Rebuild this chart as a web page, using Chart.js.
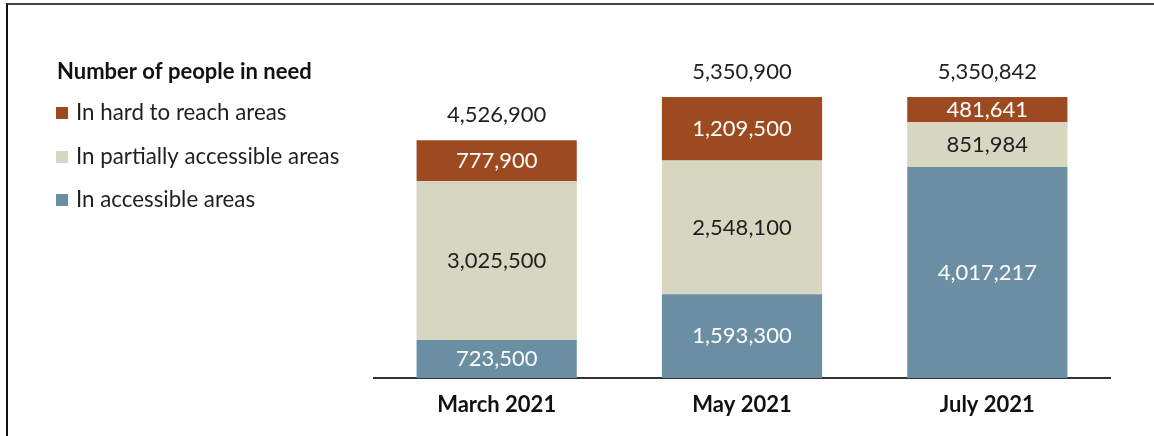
<!DOCTYPE html>
<html>
<head>
<meta charset="utf-8">
<script src="https://cdn.jsdelivr.net/npm/chart.js@4/dist/chart.umd.min.js"></script>
<style>
  html, body { margin: 0; padding: 0; background: #fff; }
  #wrap { position: relative; width: 1154px; height: 436px; overflow: hidden; }
  #frame { position: absolute; left: 6px; top: 3px; width: 1160px; height: 440px;
           border-top: 2px solid #444; border-left: 2px solid #111; }
  canvas { position: absolute; left: 0; top: 0; }
</style>
</head>
<body>
<div id="wrap">
  <div id="frame"></div>
  <canvas id="chart" width="1154" height="436"></canvas>
</div>
<script>
// data
const months = ["March 2021", "May 2021", "July 2021"];
const accessible = [723500, 1593300, 4017217];
const partial = [3025500, 2548100, 851984];
const hardToReach = [777900, 1209500, 481641];
const totals = [4526900, 5350900, 5350842];
const legendTitle = "Number of people in need";

const FONT = "Lato";
const fmt = v => v.toLocaleString("en-US");

const labelsPlugin = {
    id: "labelsPlugin",
    afterDatasetsDraw(chart) {
        const ctx = chart.ctx;
        ctx.save();
        ctx.textAlign = "center";
        ctx.textBaseline = "middle";
        ctx.font = "22px " + FONT;
        chart.data.datasets.forEach((ds, i) => {
            const meta = chart.getDatasetMeta(i);
            meta.data.forEach((bar, j) => {
                ctx.fillStyle = ds.labelColor;
                ctx.fillText(fmt(ds.data[j]), bar.x, (bar.y + bar.base) / 2);
            });
        });
        // totals above the stacks
        const top = chart.getDatasetMeta(chart.data.datasets.length - 1);
        top.data.forEach((bar, j) => {
            ctx.fillStyle = "#1f1f1f";
            ctx.fillText(fmt(totals[j]), bar.x, bar.y - 25);
        });

        // legend on the left, top item = last dataset
        ctx.textAlign = "left";
        ctx.fillStyle = "#111";
        ctx.font = "bold 22px " + FONT;
        ctx.fillText(legendTitle, 57, 72);
        ctx.font = "22.3px " + FONT;
        const rows = [113, 157, 200];
        const order = chart.data.datasets.slice().reverse();
        order.forEach((ds, k) => {
            ctx.fillStyle = ds.backgroundColor;
            ctx.fillRect(56, rows[k] - 6, 12, 12);
            ctx.fillStyle = "#1f1f1f";
            ctx.fillText(ds.label, 76, rows[k]);
        });
        ctx.restore();
    }
};

new Chart(document.getElementById("chart"), {
    type: "bar",
    data: {
        labels: months,
        datasets: [
            {
                label: "In accessible areas",
                data: accessible,
                backgroundColor: "#6a8fa3",
                labelColor: "#ffffff"
            },
            {
                label: "In partially accessible areas",
                data: partial,
                backgroundColor: "#d7d6c1",
                labelColor: "#1f1f1f"
            },
            {
                label: "In hard to reach areas",
                data: hardToReach,
                backgroundColor: "#9e4a20",
                labelColor: "#ffffff"
            }
        ]
    },
    options: {
        responsive: false,
        animation: false,
        devicePixelRatio: 1,
        layout: { padding: { left: 374, right: 44, top: 63, bottom: 0 } },
        datasets: { bar: { categoryPercentage: 0.653, barPercentage: 1.0 } },
        plugins: {
            legend: { display: false },
            tooltip: { enabled: false }
        },
        scales: {
            x: {
                stacked: true,
                grid: { display: false },
                border: { display: true, color: "#333", width: 2 },
                ticks: {
                    color: "#111",
                    font: { family: FONT, size: 22, weight: "bold" },
                    padding: 6
                },
                afterFit(scale) { scale.height = 58; }
            },
            y: {
                stacked: true,
                display: false,
                min: 0,
                max: 6000000
            }
        }
    },
    plugins: [labelsPlugin]
});
</script>
</body>
</html>
